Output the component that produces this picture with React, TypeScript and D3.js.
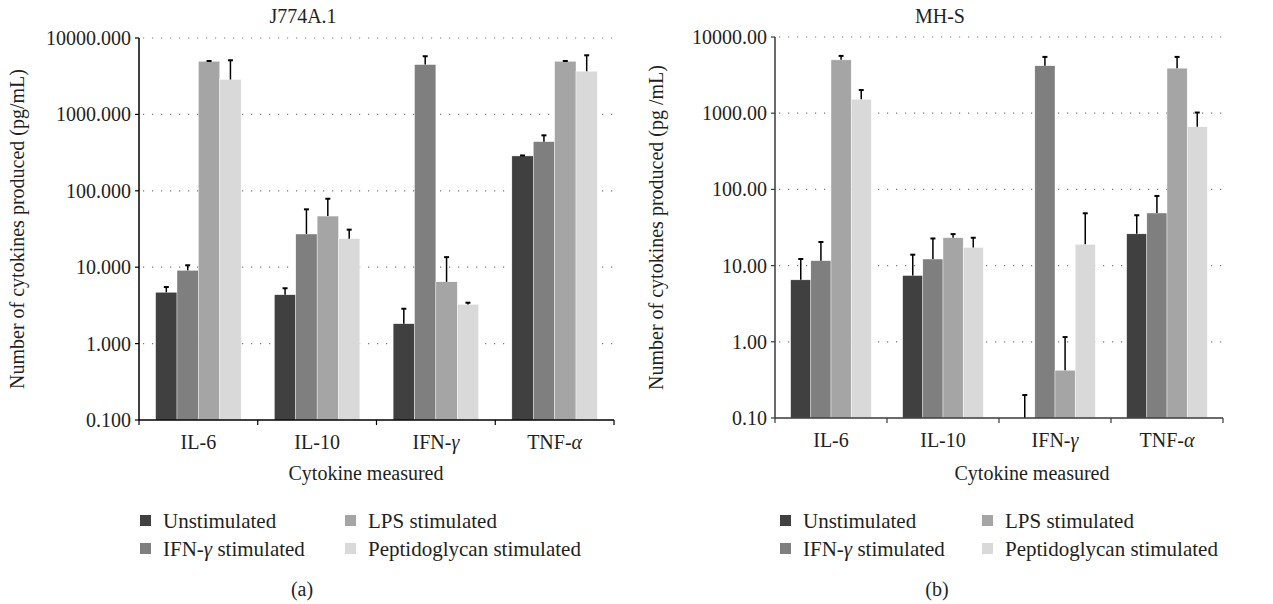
import React from 'react';
import * as d3 from 'd3';

// categories and series
const cytokines = ['IL-6', 'IL-10', 'IFN-γ', 'TNF-α'];
const seriesNames = ['Unstimulated', 'IFN-γ stimulated', 'LPS stimulated', 'Peptidoglycan stimulated'];
const seriesColors = ['#404040', '#7f7f7f', '#a5a5a5', '#d9d9d9'];
const yTicks = [0.1, 1, 10, 100, 1000, 10000];

// J774A.1 means (pg/mL), one array per series, in cytokine order
const j774Unstim = [4.7, 4.36, 1.82, 286];
const j774Ifn = [9.1, 27.2, 4490, 440];
const j774Lps = [4960, 46.7, 6.44, 4960];
const j774Pg = [2860, 23.6, 3.26, 3670];
// J774A.1 upper error (SD)
const j774UnstimErr = [0.8, 0.94, 1.04, 4];
const j774IfnErr = [1.5, 30, 1280, 92];
const j774LpsErr = [40, 32, 7.1, 40];
const j774PgErr = [2250, 7.4, 0.17, 2270];

// MH-S means
const mhsUnstim = [6.5, 7.41, 0.05, 26.1];
const mhsIfn = [11.6, 12.2, 4190, 49];
const mhsLps = [5010, 23.2, 0.423, 3900];
const mhsPg = [1523, 17.3, 19, 663];
// MH-S upper error (SD)
const mhsUnstimErr = [5.7, 6.5, 0.15, 19.7];
const mhsIfnErr = [8.8, 10.5, 1290, 33];
const mhsLpsErr = [640, 2.7, 0.73, 1580];
const mhsPgErr = [490, 5.9, 29.6, 357];

const FONT = "'Liberation Serif', 'Times New Roman', Times, serif";
const FS = 20;

type PanelProps = {
  title: string;
  titleX: number;
  values: number[][];
  errors: number[][];
  left: number;
  right: number;
  top: number;
  bottom: number;
  decimals: number;
  yLabel: string;
  yLabelX: number;
  axisColor: string;
  xTitleX: number;
  legendX: number;
  legendX2: number;
  panelLabel: string;
  panelLabelX: number;
};

function CatLabel({ name }: { name: string }) {
  const last = name.slice(-1);
  if (last === 'γ' || last === 'α') {
    return (
      <>
        {name.slice(0, -1)}
        <tspan fontStyle="italic">{last}</tspan>
      </>
    );
  }
  return <>{name}</>;
}

function SeriesLabel({ name }: { name: string }) {
  const i = name.indexOf('γ');
  if (i < 0) return <>{name}</>;
  return (
    <>
      {name.slice(0, i)}
      <tspan fontStyle="italic">γ</tspan>
      {name.slice(i + 1)}
    </>
  );
}

function Panel(p: PanelProps) {
  const x = d3.scaleBand<string>().domain(cytokines).range([p.left, p.right]).paddingInner(0.28).paddingOuter(0.14);
  const xs = d3.scaleBand<number>().domain(d3.range(seriesNames.length)).range([0, x.bandwidth()]);
  const y = d3.scaleLog().domain([0.1, 10000]).range([p.bottom, p.top]);
  const step = (p.right - p.left) / cytokines.length;
  const cy = (v: number) => y(Math.max(v, 0.1));

  return (
    <g style={{ fontFamily: FONT, fontSize: FS }} fill="#231f20">
      <text x={p.titleX} y={23} textAnchor="middle">{p.title}</text>

      {/* dotted grid */}
      {yTicks.slice(1).map(t => (
        <line key={t} x1={p.left + 4} x2={p.right} y1={y(t)} y2={y(t)}
          stroke="#777" strokeWidth={1.2} strokeDasharray="1.2,7.8" />
      ))}

      {/* bars */}
      {seriesNames.map((s, si) => (
        <g key={s}>
          {cytokines.map((c, ci) => {
            const v = p.values[si][ci];
            const bx = (x(c) as number) + (xs(si) as number);
            const by = cy(v);
            return (
              <rect key={c} x={bx} y={by} width={xs.bandwidth()} height={p.bottom - by}
                fill={seriesColors[si]} stroke="#ffffff" strokeWidth={0.4} />
            );
          })}
        </g>
      ))}

      {/* error bars */}
      {seriesNames.map((s, si) => (
        <g key={'e' + s} stroke="#000" strokeWidth={1.5}>
          {cytokines.map((c, ci) => {
            const v = p.values[si][ci];
            const e = p.errors[si][ci];
            const cx = (x(c) as number) + (xs(si) as number) + xs.bandwidth() / 2;
            const y0 = cy(v);
            const y1 = cy(v + e);
            return (
              <g key={c}>
                <line x1={cx} x2={cx} y1={y0} y2={y1} />
                <line x1={cx - 2.5} x2={cx + 2.5} y1={y1} y2={y1} strokeWidth={2} />
              </g>
            );
          })}
        </g>
      ))}

      {/* axes */}
      <line x1={p.left} x2={p.left} y1={p.top} y2={p.bottom} stroke={p.axisColor} strokeWidth={1.5} />
      <line x1={p.left} x2={p.right} y1={p.bottom} y2={p.bottom} stroke={p.axisColor} strokeWidth={1.5} />
      {yTicks.map(t => (
        <g key={t}>
          <line x1={p.left - 4} x2={p.left} y1={y(t)} y2={y(t)} stroke={p.axisColor} strokeWidth={1.2} />
          <text x={p.left - 8} y={y(t)} dy="0.35em" textAnchor="end">{t.toFixed(p.decimals)}</text>
        </g>
      ))}
      {d3.range(cytokines.length + 1).map(i => (
        <line key={i} x1={p.left + i * step} x2={p.left + i * step} y1={p.bottom} y2={p.bottom + 5}
          stroke={p.axisColor} strokeWidth={1.2} />
      ))}
      {cytokines.map(c => (
        <text key={c} x={(x(c) as number) + x.bandwidth() / 2} y={p.bottom + 29} textAnchor="middle">
          <CatLabel name={c} />
        </text>
      ))}
      <text x={p.xTitleX} y={480} textAnchor="middle">Cytokine measured</text>
      <text transform={`translate(${p.yLabelX},${(p.top + p.bottom) / 2}) rotate(-90)`} textAnchor="middle">
        {p.yLabel}
      </text>

      {/* legend: column 1 = Unstimulated / IFN-γ, column 2 = LPS / PG */}
      {seriesNames.map((s, si) => {
        const lx = si < 2 ? p.legendX : p.legendX2;
        const ly = si % 2 === 0 ? 521 : 549;
        return (
          <g key={s}>
            <rect x={lx} y={ly - 6} width={11} height={11} fill={seriesColors[si]} />
            <text x={lx + 23} y={ly} dy="0.35em" style={{ fontSize: 21 }}><SeriesLabel name={s} /></text>
          </g>
        );
      })}
      <text x={p.panelLabelX} y={596} textAnchor="middle">{p.panelLabel}</text>
    </g>
  );
}

export default function App() {
  return (
    <svg width={1273} height={604} style={{ position: 'absolute', left: 0, top: 0, background: '#fff' }}>
      <Panel
        title="J774A.1" titleX={303}
        values={[j774Unstim, j774Ifn, j774Lps, j774Pg]}
        errors={[j774UnstimErr, j774IfnErr, j774LpsErr, j774PgErr]}
        left={139} right={614} top={38} bottom={420}
        decimals={3}
        yLabel="Number of cytokines produced (pg/mL)"
        yLabelX={24}
        axisColor="#000"
        xTitleX={366}
        legendX={140} legendX2={345}
        panelLabel="(a)" panelLabelX={302}
      />
      <Panel
        title="MH-S" titleX={940}
        values={[mhsUnstim, mhsIfn, mhsLps, mhsPg]}
        errors={[mhsUnstimErr, mhsIfnErr, mhsLpsErr, mhsPgErr]}
        left={775} right={1223} top={37} bottom={418}
        decimals={2}
        yLabel="Number of cytokines produced (pg /mL)"
        yLabelX={663}
        axisColor="#3a3a3a"
        xTitleX={1032}
        legendX={780} legendX2={982}
        panelLabel="(b)" panelLabelX={937}
      />
    </svg>
  );
}
